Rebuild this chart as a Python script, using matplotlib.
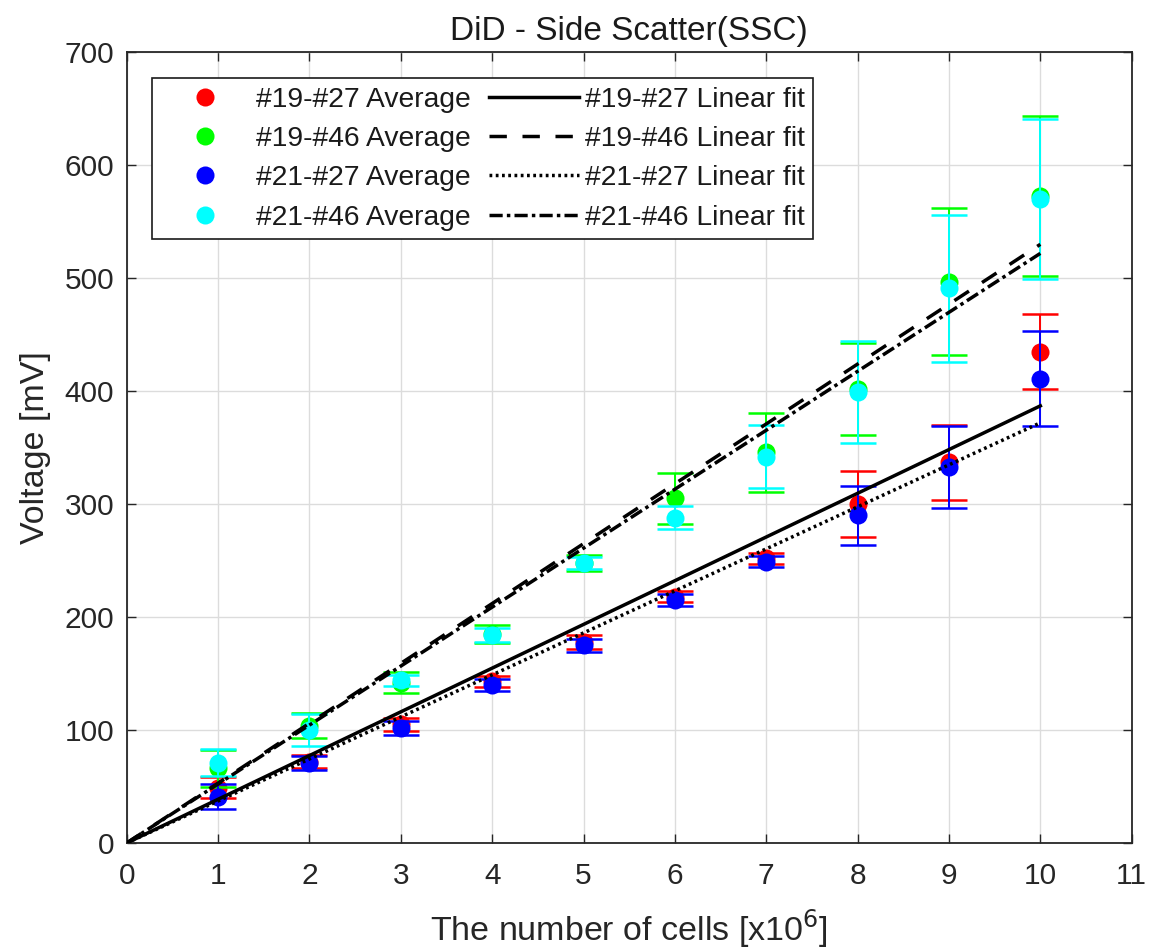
import matplotlib
matplotlib.use("Agg")
import matplotlib.pyplot as plt
from matplotlib.lines import Line2D
import numpy as np

plt.rcParams['font.family'] = ['Liberation Sans', 'DejaVu Sans']

cells = [1, 2, 3, 4, 5, 6, 7, 8, 9, 10]

avg_19_27 = [49, 72, 105, 143, 178, 218, 252, 300, 337, 435]
err_19_27 = [9, 6, 6, 5, 6, 5, 5, 29, 33, 33]
avg_19_46 = [66, 104, 142, 185, 248, 305, 346, 402, 497, 573]
err_19_46 = [16, 11, 9, 8, 7, 23, 35, 41, 65, 71]
avg_21_27 = [41, 71, 102, 140, 175, 215, 249, 290, 333, 411]
err_21_27 = [11, 6, 6, 5, 6, 5, 5, 26, 36, 42]
avg_21_46 = [71, 100, 144, 184, 248, 288, 342, 399, 491, 570]
err_21_46 = [12, 14, 5, 6, 5, 10, 28, 45, 65, 71]

fit_slopes = [38.7, 53.0, 37.2, 52.2]
fit_x = [0, 10]

avg_labels = ['#19-#27 Average', '#19-#46 Average', '#21-#27 Average', '#21-#46 Average']
fit_labels = ['#19-#27 Linear fit', '#19-#46 Linear fit', '#21-#27 Linear fit', '#21-#46 Linear fit']
colors = ['#ff0000', '#00ff00', '#0000ff', '#00ffff']
fit_styles = ['-', (0, (5.0, 4.5)), (0, (0.8, 1.0)), (0, (3.8, 1.2, 1.0, 1.2))]

fig = plt.figure(figsize=(11.49, 9.52), dpi=100)
ax = fig.add_axes([126.7 / 1149, 1 - 843 / 952, (1131.7 - 126.7) / 1149, (843 - 52.3) / 952])

axis_col = '#262626'

ax.grid(True, color='#dcdcdc', linewidth=1.0, zorder=0)
ax.set_axisbelow(True)

series = [(avg_19_27, err_19_27), (avg_19_46, err_19_46), (avg_21_27, err_21_27), (avg_21_46, err_21_46)]
avg_handles = []
for (vals, errs), c, lab in zip(series, colors, avg_labels):
    ax.errorbar(cells, vals, yerr=errs, fmt='none', ecolor=c,
                elinewidth=1.4, capsize=13.3, capthick=1.8, zorder=3)
    ax.plot(cells, vals, linestyle='none', marker='o', markersize=13,
            markeredgewidth=0, color=c, zorder=3)
    avg_handles.append(Line2D([], [], linestyle='none', marker='o', markersize=13,
                              markeredgewidth=0, color=c, label=lab))

fit_handles = []
xs = np.array(fit_x, dtype=float)
for s, ls, lab in zip(fit_slopes, fit_styles, fit_labels):
    ln, = ax.plot(xs, s * xs, color='black', linestyle=ls, linewidth=2.5, zorder=4, label=lab)
    fit_handles.append(ln)

ax.set_xlim(0, 11)
ax.set_ylim(0, 700)
ax.set_xticks(range(0, 12))
ax.set_yticks(range(0, 701, 100))

ax.tick_params(axis='both', which='both', direction='in', length=6.5, width=1.0,
               colors=axis_col, labelsize=21.5, top=True, right=True)
ax.tick_params(axis='x', pad=14)
ax.tick_params(axis='y', pad=9)
for sp in ax.spines.values():
    sp.set_color(axis_col)
    sp.set_linewidth(1.3)

ax.set_title('DiD - Side Scatter(SSC)', fontsize=24, color='#1a1a1a', pad=9)
ax.set_xlabel('The number of cells [x10$^{6}$]', fontsize=24.5, color=axis_col, labelpad=12)
ax.set_ylabel('Voltage [mV]', fontsize=24.5, color=axis_col, labelpad=10)

leg = ax.legend(handles=avg_handles + fit_handles, ncol=2, loc='upper left',
                bbox_to_anchor=(0.0249, 0.967), borderaxespad=0, fontsize=20.3,
                handlelength=3.2, handletextpad=0.2, columnspacing=0.65,
                labelspacing=0.47, borderpad=0.3, fancybox=False, framealpha=1,
                edgecolor='#1a1a1a', markerscale=1.0)
leg.get_frame().set_linewidth(1.2)
for t in leg.get_texts():
    t.set_color('#1a1a1a')

fig.savefig('out.png', dpi=100)
